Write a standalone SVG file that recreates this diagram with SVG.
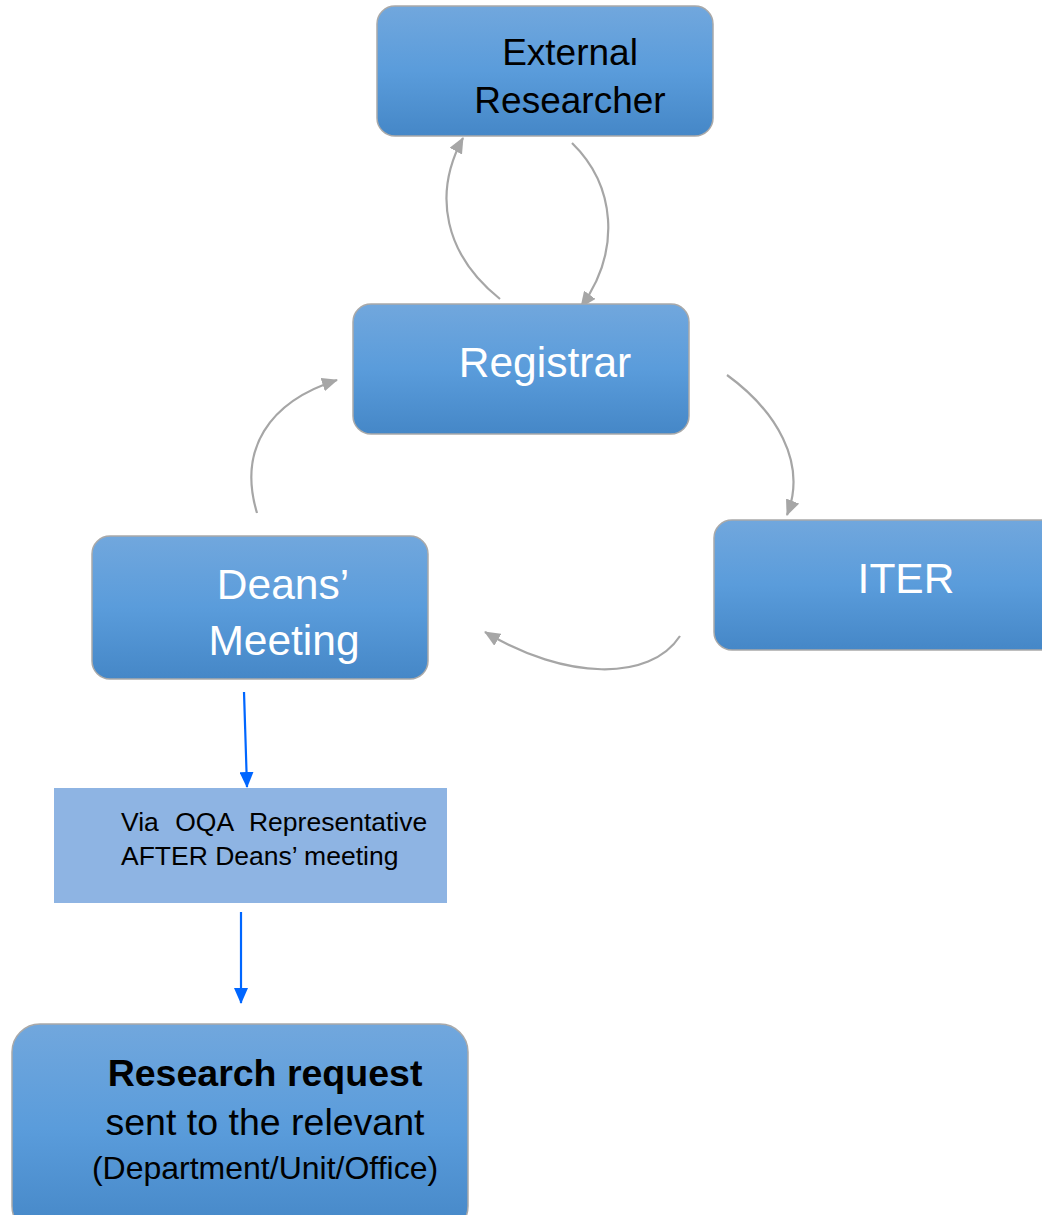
<svg xmlns="http://www.w3.org/2000/svg" width="1042" height="1215" viewBox="0 0 1042 1215">
<style>
.box{fill:url(#g);stroke:#A9A9A9;stroke-width:1.5}
.t{font-family:"Liberation Sans",Arial,sans-serif;text-anchor:middle}
.w{fill:#FFFFFF}
.k{fill:#000000}
.c{fill:none;stroke:#A6A6A6;stroke-width:2.2}
.b{fill:none;stroke:#0066FF;stroke-width:2.2}
</style>
<defs>
<linearGradient id="g" x1="0" y1="0" x2="0" y2="1">
<stop offset="0" stop-color="#71A7DD"/>
<stop offset="0.5" stop-color="#5A9CDB"/>
<stop offset="1" stop-color="#4587C7"/>
</linearGradient>
<marker id="ag" markerUnits="userSpaceOnUse" markerWidth="16" markerHeight="14" refX="15" refY="7" orient="auto">
<path d="M0,0 L16,7 L0,14 Z" fill="#A6A6A6"/>
</marker>
<marker id="ab" markerUnits="userSpaceOnUse" markerWidth="16" markerHeight="14" refX="15" refY="7" orient="auto">
<path d="M0,0 L16,7 L0,14 Z" fill="#0066FF"/>
</marker>
</defs>
<g id="connectors">
<path class="c" d="M500,299 C445,255 432,195 463,138" marker-end="url(#ag)"/>
<path class="c" d="M572,143 C615,185 622,250 581,307" marker-end="url(#ag)"/>
<path class="c" d="M727,375 C775,410 808,462 787,515" marker-end="url(#ag)"/>
<path class="c" d="M680,636 C650,682 565,680 485,632" marker-end="url(#ag)"/>
<path class="c" d="M257,513 C238,450 268,402 337,380" marker-end="url(#ag)"/>
<path class="b" d="M244,692 L247,787" marker-end="url(#ab)"/>
<path class="b" d="M241,912 L241,1003" marker-end="url(#ab)"/>
</g>
<g id="external">
<rect class="box" x="377" y="6" width="336" height="130" rx="18"/>
<text class="t k" x="570" y="65" font-size="37">External</text>
<text class="t k" x="570" y="113" font-size="37">Researcher</text>
</g>
<g id="registrar">
<rect class="box" x="353" y="304" width="336" height="130" rx="18"/>
<text class="t w" x="545" y="377" font-size="42.5">Registrar</text>
</g>
<g id="iter">
<rect class="box" x="714" y="520" width="345" height="130" rx="18"/>
<text class="t w" x="906" y="593" font-size="42.5">ITER</text>
</g>
<g id="deans">
<rect class="box" x="92" y="536" width="336" height="143" rx="18"/>
<text class="t w" x="283" y="599" font-size="42.5">Deans’</text>
<text class="t w" x="284" y="655" font-size="42.5">Meeting</text>
</g>
<g id="oqa">
<rect x="54" y="788" width="393" height="115" fill="#8EB4E3"/>
<text font-family="Liberation Sans, Arial, sans-serif" font-size="26.5" x="121" y="831" word-spacing="9">Via OQA Representative</text>
<text font-family="Liberation Sans, Arial, sans-serif" font-size="26.5" x="121" y="865">AFTER Deans’ meeting</text>
</g>
<g id="request">
<rect class="box" x="12" y="1024" width="456" height="210" rx="28"/>
<text class="t k" x="265" y="1086" font-size="37.5" font-weight="bold">Research request</text>
<text class="t k" x="265" y="1135" font-size="37.5">sent to the relevant</text>
<text class="t k" x="265" y="1179" font-size="32">(Department/Unit/Office)</text>
</g>
</svg>
